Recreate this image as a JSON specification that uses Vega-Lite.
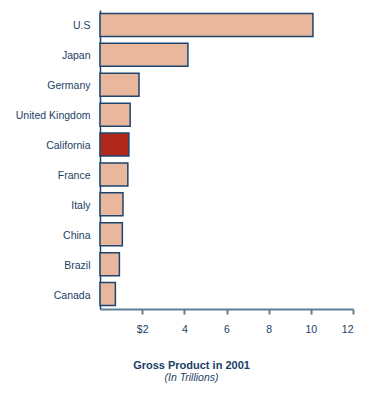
{
  "$schema": "https://vega.github.io/schema/vega-lite/v6.json",
  "width": 253,
  "height": 299,
  "autosize": {"type": "none"},
  "padding": {"left": 100, "top": 10, "right": 21, "bottom": 92},
  "background": "white",
  "config": {"view": {"stroke": null}, "font": "Liberation Sans"},
  "data": {"values": [
    {"country": "U.S", "gdp": 10.1, "hl": "no"},
    {"country": "Japan", "gdp": 4.17, "hl": "no"},
    {"country": "Germany", "gdp": 1.85, "hl": "no"},
    {"country": "United Kingdom", "gdp": 1.43, "hl": "no"},
    {"country": "California", "gdp": 1.37, "hl": "yes"},
    {"country": "France", "gdp": 1.32, "hl": "no"},
    {"country": "Italy", "gdp": 1.09, "hl": "no"},
    {"country": "China", "gdp": 1.06, "hl": "no"},
    {"country": "Brazil", "gdp": 0.92, "hl": "no"},
    {"country": "Canada", "gdp": 0.73, "hl": "no"}
  ]},
  "title": {
    "text": "Gross Product in 2001",
    "subtitle": "(In Trillions)",
    "orient": "bottom",
    "anchor": "middle",
    "frame": "group",
    "dx": -35,
    "offset": 25,
    "font": "Liberation Sans",
    "fontSize": 11,
    "fontWeight": "bold",
    "color": "#1B3E64",
    "subtitleFont": "Liberation Sans",
    "subtitleFontSize": 10.5,
    "subtitleFontStyle": "italic",
    "subtitleColor": "#1B3E64",
    "subtitlePadding": 2
  },
  "mark": {"type": "bar", "stroke": "#1E4470", "strokeWidth": 1.5},
  "encoding": {
    "y": {
      "field": "country", "type": "nominal", "sort": null,
      "scale": {"paddingInner": 0.23, "paddingOuter": 0.115},
      "axis": {
        "title": null, "ticks": false, "labelPadding": 10, "labelOffset": 1.5,
        "labelFont": "Liberation Sans", "labelFontSize": 10.5, "labelColor": "#1B3E64",
        "domainColor": "#1E4470", "domainWidth": 1.5
      }
    },
    "x": {
      "field": "gdp", "type": "quantitative",
      "scale": {"domain": [0, 12], "nice": false},
      "axis": {
        "title": null, "values": [2, 4, 6, 8, 10, 12], "grid": false,
        "labelExpr": "datum.value == 2 ? '$2' : datum.label",
        "tickSize": 5, "tickWidth": 2, "tickColor": "#5F7F95",
        "domainColor": "#5F7F95", "domainWidth": 2,
        "labelPadding": 10,
        "labelFont": "Liberation Sans", "labelFontSize": 10.5, "labelColor": "#1B3E64"
      }
    },
    "fill": {
      "field": "hl", "type": "nominal",
      "scale": {"domain": ["no", "yes"], "range": ["#E8B79C", "#B0281A"]},
      "legend": null
    }
  }
}
